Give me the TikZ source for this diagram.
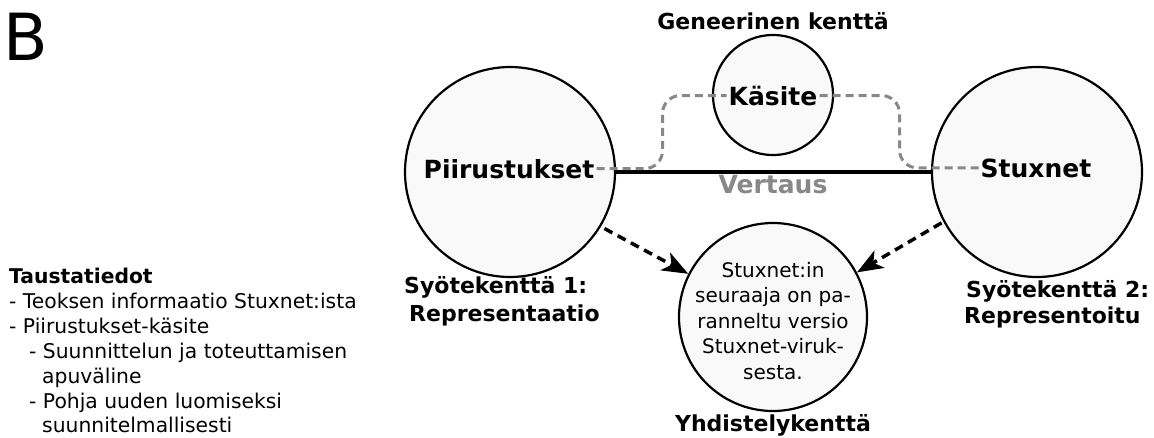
\documentclass[tikz,border=0pt]{standalone}
\usepackage{fontspec}
\setmainfont{DejaVu Sans}
\usetikzlibrary{arrows.meta}

\definecolor{fieldfill}{HTML}{F9F9F9}
\definecolor{linkgray}{HTML}{888888}

\tikzset{
  field/.style={circle, draw=black, line width=2.2pt, fill=fieldfill,
                inner sep=0pt, minimum size=#1},
  bigname/.style={font=\fontsize{25}{29}\selectfont\bfseries, inner sep=2pt},
  fieldlabel/.style={font=\fontsize{22}{26}\selectfont\bfseries, inner sep=0pt},
  noteline/.style={font=\fontsize{20.3}{25}\selectfont, inner sep=0pt, anchor=base west},
  comparison/.style={line width=3.5pt},
  mapping/.style={draw=linkgray, line width=3pt, dash pattern=on 8pt off 5pt,
                  rounded corners=18pt},
  projection/.style={line width=3.5pt, dash pattern=on 9pt off 6pt,
                     -{Stealth[length=26pt,width=20pt,inset=7pt]}},
}

\begin{document}
\begin{tikzpicture}[x=1pt,y=-1pt]
  \useasboundingbox (0,0) rectangle (1154,437);

  % panel letter
  \node[font=\fontsize{65}{70}\selectfont, inner sep=0pt, anchor=base west]
    (panel) at (3,60) {B};

  % the four spaces
  \node[field=210] (pc) at (510,172) {};
  \node[field=210] (sc) at (1037,172) {};
  \node[field=120] (kc) at (773,95) {};
  \node[field=188] (yc) at (773,317) {};

  % space names
  \node[bigname, anchor=base] (pt) at (509,178) {Piirustukset};
  \node[bigname, anchor=base] (st) at (1036,177) {Stuxnet};
  \node[bigname, anchor=base] (kt) at (773,105) {Käsite};
  \node[bigname, anchor=base, text=linkgray] (vt) at (773,193) {Vertaus};

  % comparison between the input spaces
  \draw[comparison] (pc.east) -- (sc.west);

  % mappings through the generic space
  \draw[mapping] (pt.east) -| ([xshift=-64pt]kt.west) -- (kt.west);
  \draw[mapping] (kt.east) -| ([xshift=-79pt]st.west) -- (st.west);

  % projections into the blend
  \draw[projection, shorten <=4pt] (pc.-31) -- (yc.153);
  \draw[projection, shorten <=2pt] (sc.208) -- (yc.28);

  % blend content
  \node[font=\fontsize{20}{25.5}\selectfont, align=center, inner sep=0pt]
    (yt) at (773,321)
    {Stuxnet:in\\seuraaja on pa-\\ranneltu versio\\Stuxnet-viruk-\\sesta.};

  % space labels
  \node[fieldlabel, anchor=base] (gl) at (773,29) {Geneerinen kenttä};
  \node[fieldlabel, anchor=base west] (s1a) at (404,293) {Syötekenttä 1:};
  \node[fieldlabel, anchor=base west] (s1b) at (409,321) {Representaatio};
  \node[fieldlabel, anchor=base west] (s2a) at (966,297) {Syötekenttä 2:};
  \node[fieldlabel, anchor=base west] (s2b) at (964,323) {Representoitu};
  \node[fieldlabel, anchor=base] (yl) at (773,431) {Yhdistelykenttä};

  % background notes
  \node[noteline, font=\fontsize{20.3}{25}\selectfont\bfseries] (n1) at (9,283) {Taustatiedot};
  \node[noteline] (n2) at (9,308) {- Teoksen informaatio Stuxnet:ista};
  \node[noteline] (n3) at (9,333) {- Piirustukset-käsite};
  \node[noteline] (n4) at (29,358) {- Suunnittelun ja toteuttamisen};
  \node[noteline] (n5) at (42,383) {apuväline};
  \node[noteline] (n6) at (29,408) {- Pohja uuden luomiseksi};
  \node[noteline] (n7) at (42,432) {suunnitelmallisesti};
\end{tikzpicture}
\end{document}
